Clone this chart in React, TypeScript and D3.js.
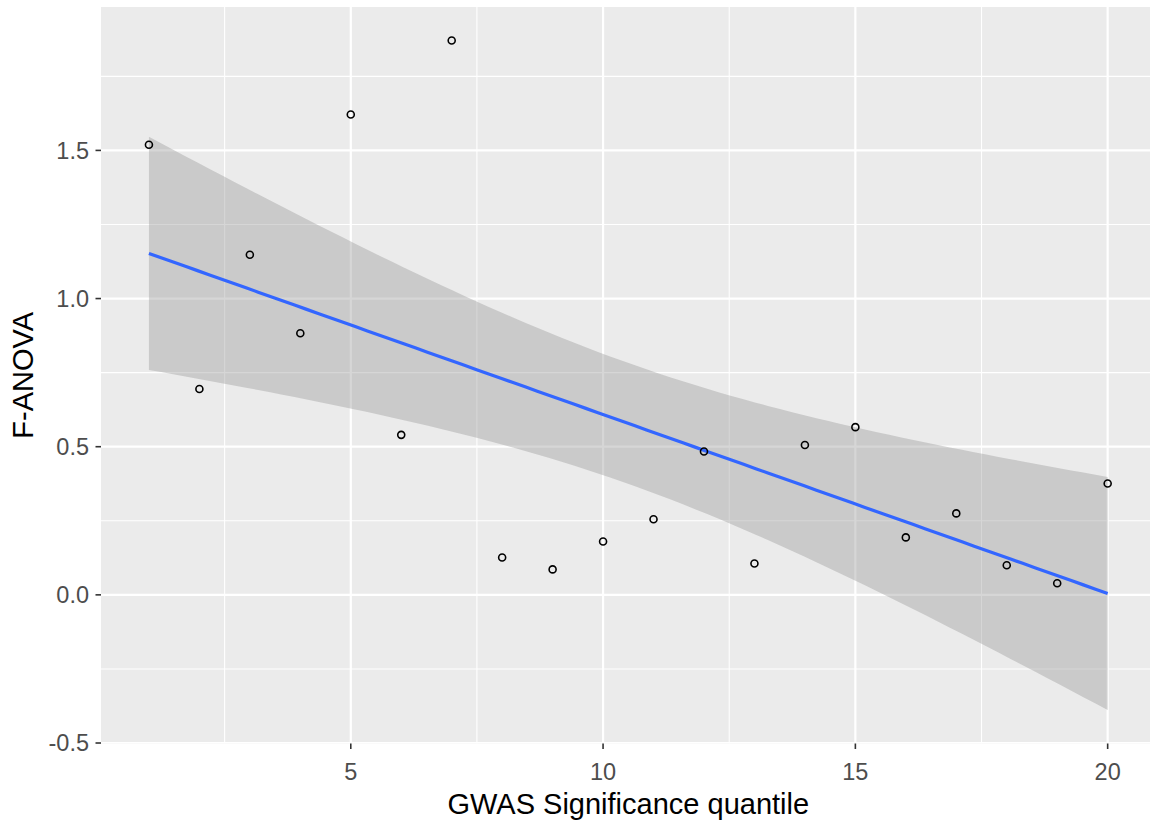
import React from "react";
import * as d3 from "d3";

// Data
const quantiles = [1, 2, 3, 4, 5, 6, 7, 8, 9, 10, 11, 12, 13, 14, 15, 16, 17, 18, 19, 20];
const fAnova = [1.519, 0.695, 1.148, 0.883, 1.621, 0.54, 1.871, 0.126, 0.086, 0.18, 0.255, 0.484, 0.106, 0.506, 0.566, 0.194, 0.275, 0.1, 0.039, 0.376];
const xTicks = [5, 10, 15, 20];
const xMinor = [2.5, 7.5, 12.5, 17.5];
const yTicks = [-0.5, 0, 0.5, 1.0, 1.5];
const yTickLabels = ["-0.5", "0.0", "0.5", "1.0", "1.5"];
const yMinor = [-0.25, 0.25, 0.75, 1.25, 1.75];
const xTitle = "GWAS Significance quantile";
const yTitle = "F-ANOVA";

// t quantile for 95% CI with 18 degrees of freedom
const T_975_DF18 = 2.100922;

const W = 1150;
const H = 824;
const panel = { left: 101, right: 1155.6, top: 7, bottom: 743.5 };
const FONT = "'Liberation Sans', Arial, Helvetica, sans-serif";

function fitLm(xs: number[], ys: number[]) {
  const n = xs.length;
  const mx = d3.mean(xs)!;
  const my = d3.mean(ys)!;
  const sxx = d3.sum(xs, (x) => (x - mx) ** 2);
  const sxy = d3.sum(xs.map((x, i) => (x - mx) * (ys[i] - my)));
  const b = sxy / sxx;
  const a = my - b * mx;
  const rss = d3.sum(xs.map((x, i) => (ys[i] - (a + b * x)) ** 2));
  const s = Math.sqrt(rss / (n - 2));
  const ext = d3.extent(xs) as [number, number];
  const pts = d3.range(80).map((k) => {
    const x = ext[0] + ((ext[1] - ext[0]) * k) / 79;
    const fit = a + b * x;
    const se = s * Math.sqrt(1 / n + (x - mx) ** 2 / sxx);
    return { x, fit, lo: fit - T_975_DF18 * se, hi: fit + T_975_DF18 * se };
  });
  return pts;
}

export default function App() {
  const smooth = fitLm(quantiles, fAnova);
  const xExt = d3.extent(quantiles) as [number, number];
  const xPad = (xExt[1] - xExt[0]) * 0.05;
  const yLo = Math.min(d3.min(fAnova)!, d3.min(smooth, (d) => d.lo)!);
  const yHi = Math.max(d3.max(fAnova)!, d3.max(smooth, (d) => d.hi)!);
  const yPad = (yHi - yLo) * 0.05;

  const x = d3.scaleLinear().domain([xExt[0] - xPad, xExt[1] + xPad]).range([panel.left, panel.right]);
  const y = d3.scaleLinear().domain([yLo - yPad, yHi + yPad]).range([panel.bottom, panel.top]);

  const area = d3
    .area<{ x: number; lo: number; hi: number }>()
    .x((d) => x(d.x))
    .y0((d) => y(d.lo))
    .y1((d) => y(d.hi));
  const line = d3
    .line<{ x: number; fit: number }>()
    .x((d) => x(d.x))
    .y((d) => y(d.fit));

  return (
    <svg width={W} height={H} style={{ position: "absolute", left: 0, top: 0, background: "#fff" }}>
      <defs>
        <clipPath id="panelClip">
          <rect x={panel.left} y={panel.top} width={panel.right - panel.left} height={panel.bottom - panel.top} />
        </clipPath>
      </defs>
      <rect x={panel.left} y={panel.top} width={panel.right - panel.left} height={panel.bottom - panel.top} fill="#EBEBEB" />
      <g clipPath="url(#panelClip)">
        {yMinor.map((v) => (
          <line key={"ym" + v} x1={panel.left} x2={panel.right} y1={y(v)} y2={y(v)} stroke="#fff" strokeWidth={1.1} />
        ))}
        {xMinor.map((v) => (
          <line key={"xm" + v} y1={panel.top} y2={panel.bottom} x1={x(v)} x2={x(v)} stroke="#fff" strokeWidth={1.1} />
        ))}
        {yTicks.map((v) => (
          <line key={"yM" + v} x1={panel.left} x2={panel.right} y1={y(v)} y2={y(v)} stroke="#fff" strokeWidth={2.2} />
        ))}
        {xTicks.map((v) => (
          <line key={"xM" + v} y1={panel.top} y2={panel.bottom} x1={x(v)} x2={x(v)} stroke="#fff" strokeWidth={2.2} />
        ))}
        <path d={area(smooth) || ""} fill="#999999" fillOpacity={0.4} />
        <path d={line(smooth) || ""} fill="none" stroke="#3366FF" strokeWidth={3.2} />
        {quantiles.map((q, i) => (
          <circle key={q} cx={x(q)} cy={y(fAnova[i])} r={3.5} fill="none" stroke="#000" strokeWidth={1.6} />
        ))}
      </g>
      {/* Y axis */}
      {yTicks.map((v, i) => (
        <g key={"yt" + v}>
          <line x1={panel.left - 5.5} x2={panel.left} y1={y(v)} y2={y(v)} stroke="#333333" strokeWidth={1.6} />
          <text x={panel.left - 12} y={y(v)} dy="0.36em" textAnchor="end" fontFamily={FONT} fontSize={23.5} fill="#4D4D4D">
            {yTickLabels[i]}
          </text>
        </g>
      ))}
      {/* X axis */}
      {xTicks.map((v) => (
        <g key={"xt" + v}>
          <line x1={x(v)} x2={x(v)} y1={panel.bottom} y2={panel.bottom + 5.5} stroke="#333333" strokeWidth={1.6} />
          <text x={x(v)} y={panel.bottom + 36} textAnchor="middle" fontFamily={FONT} fontSize={23.5} fill="#4D4D4D">
            {v}
          </text>
        </g>
      ))}
      <text x={(panel.left + panel.right) / 2} y={814} textAnchor="middle" fontFamily={FONT} fontSize={29} fill="#000">
        {xTitle}
      </text>
      <text
        transform={`translate(33, ${(panel.top + panel.bottom) / 2}) rotate(-90)`}
        textAnchor="middle"
        fontFamily={FONT}
        fontSize={29}
        fill="#000"
      >
        {yTitle}
      </text>
    </svg>
  );
}
